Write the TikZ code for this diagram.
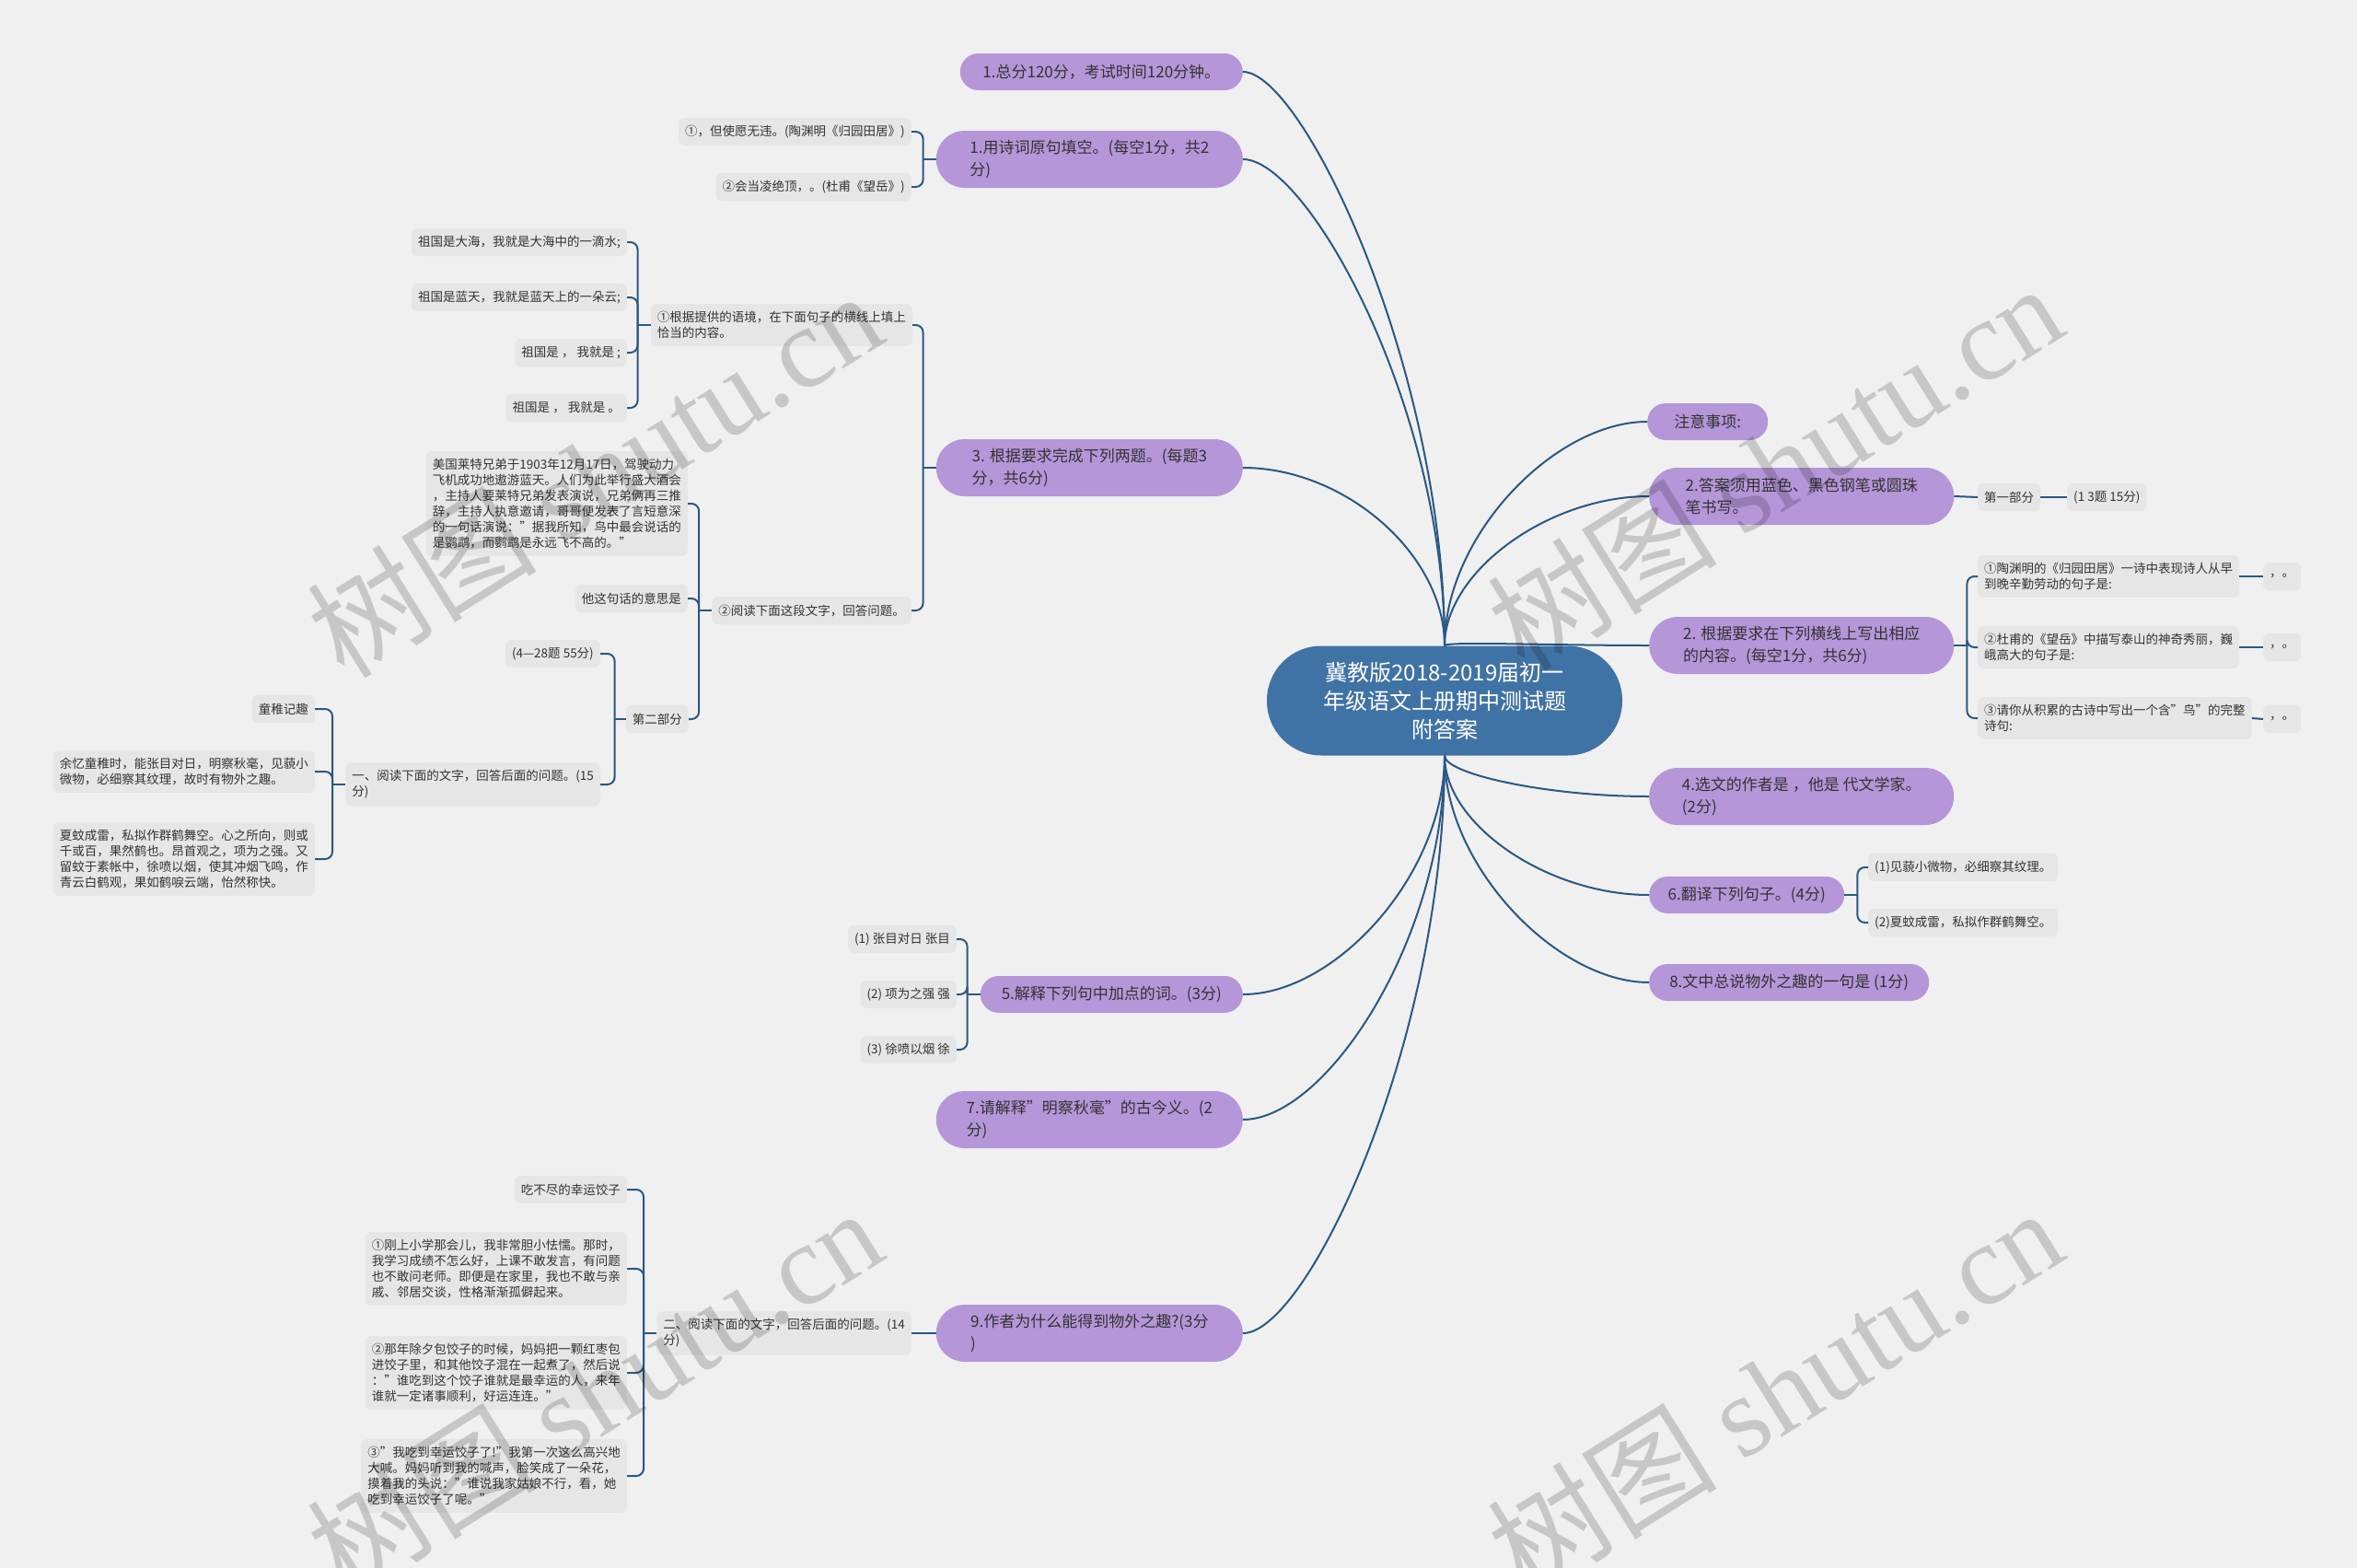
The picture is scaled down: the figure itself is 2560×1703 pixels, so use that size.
\documentclass[tikz,border=0pt]{standalone}
\usepackage{fontspec}
\setmainfont{Noto Sans CJK SC}
\newfontfamily\wmfont{Liberation Serif}

\definecolor{bgC}{RGB}{240,240,240}
\definecolor{rootC}{RGB}{64,115,165}
\definecolor{topicC}{RGB}{181,150,216}
\definecolor{leafC}{RGB}{230,230,230}
\definecolor{linkC}{RGB}{42,88,132}
\definecolor{txtC}{RGB}{51,51,51}

\tikzset{
  rootbox/.style={fill=rootC, text=white, rounded corners=59pt, minimum width=386pt,
    minimum height=119pt, align=center, font=\fontsize{24}{31}\selectfont},
  topic/.style={fill=topicC, text=txtC, rounded corners=20pt, minimum height=40pt,
    inner xsep=10pt, align=left, font=\fontsize{17}{24}\selectfont},
  topic2/.style={topic, rounded corners=31pt, minimum height=62pt},
  leafbox/.style={fill=leafC, text=txtC, rounded corners=6pt, minimum height=30pt,
    inner xsep=7pt, inner ysep=8pt, align=left, font=\fontsize{13.5}{17}\selectfont},
  linkline/.style={draw=linkC, line width=2pt},
  braceline/.style={draw=linkC, line width=2pt, rounded corners=8pt},
  wmark/.style={text=black, text opacity=0.17, rotate=32, font=\fontsize{125}{125}\selectfont}
}

\begin{document}
\begin{tikzpicture}[x=1pt, y=-1pt]
  \fill[bgC] (0,0) rectangle (2560,1703);
  \useasboundingbox (0,0) rectangle (2560,1703);

  % Nút gốc
  \node[rootbox] (root) at (1569,761) {冀教版2018-2019届初一\\年级语文上册期中测试题\\附答案};

  % Nhánh trái
  \node[topic, anchor=east, minimum width=307pt] (tTotal) at (1350,78) {1.总分120分，考试时间120分钟。};
  \node[topic2, anchor=east, minimum width=333pt] (tPoem) at (1350,173) {1.用诗词原句填空。(每空1分，共2\\分)};
  \node[topic2, anchor=east, minimum width=333pt] (tTwo) at (1350,508) {3. 根据要求完成下列两题。(每题3\\分，共6分)};
  \node[topic, anchor=east, minimum width=285pt] (tWord) at (1350,1080) {5.解释下列句中加点的词。(3分)};
  \node[topic2, anchor=east, minimum width=333pt] (tIdiom) at (1350,1216) {7.请解释"明察秋毫"的古今义。(2\\分)};
  \node[topic2, anchor=east, minimum width=333pt] (tFun) at (1350,1448) {9.作者为什么能得到物外之趣?(3分\\)};

  % Nhánh phải
  \node[topic, anchor=west, minimum width=131pt] (tNote) at (1789,458) {注意事项:};
  \node[topic2, anchor=west, minimum width=331pt] (tPen) at (1791,539) {2.答案须用蓝色、黑色钢笔或圆珠\\笔书写。};
  \node[topic2, anchor=west, minimum width=331pt] (tFill) at (1791,701) {2. 根据要求在下列横线上写出相应\\的内容。(每空1分，共6分)};
  \node[topic2, anchor=west, minimum width=331pt] (tAuthor) at (1791,865) {4.选文的作者是 ，他是 代文学家。\\(2分)};
  \node[topic, anchor=west, minimum width=212pt] (tTrans) at (1791,972) {6.翻译下列句子。(4分)};
  \node[topic, anchor=west, minimum width=304pt] (tSum) at (1791,1067) {8.文中总说物外之趣的一句是 (1分)};

  % Nối gốc
  \draw[linkline] (root.north) to[out=90, in=0, out distance=300pt, in distance=65pt] (tTotal.east);
  \draw[linkline] (root.north) to[out=90, in=0, out distance=260pt, in distance=70pt] (tPoem.east);
  \draw[linkline] (root.north) to[out=90, in=0, out distance=100pt, in distance=110pt] (tTwo.east);
  \draw[linkline] (root.south) to[out=-90, in=0, out distance=130pt, in distance=100pt] (tWord.east);
  \draw[linkline] (root.south) to[out=-90, in=0, out distance=200pt, in distance=90pt] (tIdiom.east);
  \draw[linkline] (root.south) to[out=-90, in=0, out distance=310pt, in distance=70pt] (tFun.east);
  \draw[linkline] (root.north) to[out=90, in=180, out distance=120pt, in distance=100pt] (tNote.west);
  \draw[linkline] (root.north) to[out=90, in=180, out distance=80pt, in distance=110pt] (tPen.west);
  \draw[linkline] (root.north) to[out=90, in=180, out distance=5pt, in distance=110pt] (tFill.west);
  \draw[linkline] (root.south) to[out=-90, in=180, out distance=20pt, in distance=110pt] (tAuthor.west);
  \draw[linkline] (root.south) to[out=-90, in=180, out distance=75pt, in distance=110pt] (tTrans.west);
  \draw[linkline] (root.south) to[out=-90, in=180, out distance=120pt, in distance=100pt] (tSum.west);

  % Câu 1
  \node[leafbox, anchor=east] (pA) at (990,143) {①，但使愿无违。(陶渊明《归园田居》)};
  \node[leafbox, anchor=east] (pB) at (990,203) {②会当凌绝顶，。(杜甫《望岳》)};
  \draw[linkline] (tPoem.west) -- ++(-14,0) coordinate (jPoem);
  \draw[braceline] (jPoem) |- (pA.east);
  \draw[braceline] (jPoem) |- (pB.east);

  % Câu 3
  \node[leafbox, anchor=east] (qCtx) at (991,353) {①根据提供的语境，在下面句子的横线上填上\\恰当的内容。};
  \node[leafbox, anchor=east] (qRead) at (990,663) {②阅读下面这段文字，回答问题。};
  \draw[linkline] (tTwo.west) -- ++(-14,0) coordinate (jTwo);
  \draw[braceline] (jTwo) |- (qCtx.east);
  \draw[braceline] (jTwo) |- (qRead.east);

  \node[leafbox, anchor=east] (s1) at (681,263) {祖国是大海，我就是大海中的一滴水;};
  \node[leafbox, anchor=east] (s2) at (681,323) {祖国是蓝天，我就是蓝天上的一朵云;};
  \node[leafbox, anchor=east] (s3) at (681,383) {祖国是 ， 我就是 ;};
  \node[leafbox, anchor=east] (s4) at (681,443) {祖国是 ， 我就是 。};
  \draw[linkline] (qCtx.west) -- ++(-14,0) coordinate (jCtx);
  \foreach \s in {s1,s2,s3,s4}
    \draw[braceline] (jCtx) |- (\s.east);

  \node[leafbox, anchor=east] (story) at (747,547) {美国莱特兄弟于1903年12月17日，驾驶动力\\飞机成功地遨游蓝天。人们为此举行盛大酒会\\，主持人要莱特兄弟发表演说，兄弟俩再三推\\辞，主持人执意邀请，哥哥便发表了言短意深\\的一句话演说："据我所知，鸟中最会说话的\\是鹦鹉，而鹦鹉是永远飞不高的。"};
  \node[leafbox, anchor=east] (meaning) at (747,650) {他这句话的意思是};
  \node[leafbox, anchor=east] (partTwo) at (748,781) {第二部分};
  \draw[linkline] (qRead.west) -- ++(-14,0) coordinate (jRead);
  \foreach \s in {story,meaning,partTwo}
    \draw[braceline] (jRead) |- (\s.east);

  \node[leafbox, anchor=east] (score) at (652,710) {(4—28题 55分)};
  \node[leafbox, anchor=east] (secA) at (652,852) {一、阅读下面的文字，回答后面的问题。(15\\分)};
  \draw[linkline] (partTwo.west) -- ++(-12,0) coordinate (jPart);
  \draw[braceline] (jPart) |- (score.east);
  \draw[braceline] (jPart) |- (secA.east);

  \node[leafbox, anchor=east] (title1) at (342,770) {童稚记趣};
  \node[leafbox, anchor=east] (para1) at (342,838) {余忆童稚时，能张目对日，明察秋毫，见藐小\\微物，必细察其纹理，故时有物外之趣。};
  \node[leafbox, anchor=east] (para2) at (342,933) {夏蚊成雷，私拟作群鹤舞空。心之所向，则或\\千或百，果然鹤也。昂首观之，项为之强。又\\留蚊于素帐中，徐喷以烟，使其冲烟飞鸣，作\\青云白鹤观，果如鹤唳云端，怡然称快。};
  \draw[linkline] (secA.west) -- ++(-14,0) coordinate (jSecA);
  \foreach \s in {title1,para1,para2}
    \draw[braceline] (jSecA) |- (\s.east);

  % Câu 5
  \node[leafbox, anchor=east] (w1) at (1039,1020) {(1) 张目对日 张目};
  \node[leafbox, anchor=east] (w2) at (1039,1080) {(2) 项为之强 强};
  \node[leafbox, anchor=east] (w3) at (1039,1140) {(3) 徐喷以烟 徐};
  \draw[linkline] (tWord.west) -- ++(-14,0) coordinate (jWord);
  \foreach \s in {w1,w2,w3}
    \draw[braceline] (jWord) |- (\s.east);

  % Câu 9
  \node[leafbox, anchor=east] (secB) at (990,1448) {二、阅读下面的文字，回答后面的问题。(14\\分)};
  \draw[linkline] (tFun.west) -- (secB.east);
  \node[leafbox, anchor=east] (title2) at (681,1292) {吃不尽的幸运饺子};
  \node[leafbox, anchor=east] (para3) at (681,1378) {①刚上小学那会儿，我非常胆小怯懦。那时，\\我学习成绩不怎么好，上课不敢发言，有问题\\也不敢问老师。即便是在家里，我也不敢与亲\\戚、邻居交谈，性格渐渐孤僻起来。};
  \node[leafbox, anchor=east] (para4) at (681,1491) {②那年除夕包饺子的时候，妈妈把一颗红枣包\\进饺子里，和其他饺子混在一起煮了，然后说\\："谁吃到这个饺子谁就是最幸运的人，来年\\谁就一定诸事顺利，好运连连。"};
  \node[leafbox, anchor=east] (para5) at (681,1603) {③"我吃到幸运饺子了!"我第一次这么高兴地\\大喊。妈妈听到我的喊声，脸笑成了一朵花，\\摸着我的头说："谁说我家姑娘不行，看，她\\吃到幸运饺子了呢。"};
  \draw[linkline] (secB.west) -- ++(-14,0) coordinate (jSecB);
  \foreach \s in {title2,para3,para4,para5}
    \draw[braceline] (jSecB) |- (\s.east);

  % Nhánh phải: con
  \node[leafbox, anchor=west] (part1) at (2148,540) {第一部分};
  \node[leafbox, anchor=west] (part1s) at (2245,540) {(1 3题 15分)};
  \draw[linkline] (tPen.east) -- (part1.west);
  \draw[linkline] (part1.east) -- (part1s.west);

  \node[leafbox, anchor=west] (fq1) at (2148,626) {①陶渊明的《归园田居》一诗中表现诗人从早\\到晚辛勤劳动的句子是:};
  \node[leafbox, anchor=west] (fq2) at (2148,703) {②杜甫的《望岳》中描写泰山的神奇秀丽，巍\\峨高大的句子是:};
  \node[leafbox, anchor=west] (fq3) at (2148,780) {③请你从积累的古诗中写出一个含"鸟"的完整\\诗句:};
  \node[leafbox, anchor=west] (fa1) at (2458,626) {，。};
  \node[leafbox, anchor=west] (fa2) at (2458,703) {，。};
  \node[leafbox, anchor=west] (fa3) at (2458,781) {，。};
  \draw[linkline] (tFill.east) -- ++(14,0) coordinate (jFill);
  \foreach \s in {fq1,fq2,fq3}
    \draw[braceline] (jFill) |- (\s.west);
  \foreach \s/\t in {fq1/fa1,fq2/fa2,fq3/fa3}
    \draw[linkline] (\s.east) -- (\t.west);

  \node[leafbox, anchor=west] (tr1) at (2029,942) {(1)见藐小微物，必细察其纹理。};
  \node[leafbox, anchor=west] (tr2) at (2029,1002) {(2)夏蚊成雷，私拟作群鹤舞空。};
  \draw[linkline] (tTrans.east) -- ++(14,0) coordinate (jTrans);
  \draw[braceline] (jTrans) |- (tr1.west);
  \draw[braceline] (jTrans) |- (tr2.west);

  % Hình mờ
  \foreach \wx/\wy in {645/514, 1927/506, 645/1510, 1927/1510}
    \node[wmark] (wm-\wx-\wy) at (\wx,\wy) {树图 {\wmfont shutu.cn}};
\end{tikzpicture}
\end{document}
